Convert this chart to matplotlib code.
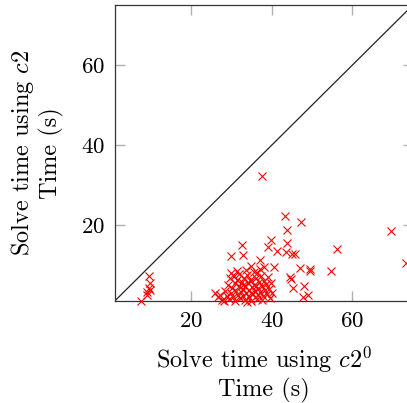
import matplotlib
matplotlib.use("Agg")
import matplotlib.pyplot as plt

plt.rcParams['font.family'] = 'serif'
plt.rcParams['font.serif'] = ['cmr10', 'DejaVu Serif']
plt.rcParams['mathtext.fontset'] = 'cm'
plt.rcParams['axes.unicode_minus'] = False
plt.rcParams['axes.formatter.use_mathtext'] = True

# Outlying points
outer_x = [37.6, 43.2, 47.3, 43.7, 69.5, 39.9, 43.9, 32.6, 39.0, 41.2, 43.6, 45.1,
           45.9, 56.1, 29.8, 32.8, 73.4, 37.1, 35.0, 38.1, 40.5, 47.1, 49.6, 49.4,
           54.8, 44.6, 44.8, 45.3, 47.9, 47.8, 48.9,
           9.5, 9.9, 9.5, 9.9, 9.1, 9.0, 7.65]
outer_y = [32.3, 22.4, 20.9, 18.75, 18.5, 16.3, 15.5, 15.2, 14.5, 13.6, 13.3, 12.9,
           12.8, 14.0, 12.3, 12.6, 10.5, 11.3, 9.85, 9.6, 9.7, 9.35, 9.2, 8.5,
           8.7, 7.0, 6.6, 4.3, 4.85, 2.2, 2.7,
           7.35, 5.7, 4.3, 3.9, 3.4, 2.6, 1.2]

# Dense cluster
cluster_x = [26.0, 26.8, 27.3, 27.8, 28.3, 28.5, 28.9, 29.2, 29.5, 29.7, 29.9, 30.1,
             30.3, 30.6, 30.8, 31.0, 31.1, 31.4, 31.6, 31.8, 32.0, 32.2, 32.4, 32.6,
             32.8, 33.0, 33.2, 33.4, 33.5, 33.7, 33.9, 34.1, 34.3, 34.5, 34.7, 34.9,
             35.1, 35.3, 35.5, 35.7, 35.9, 36.1, 36.3, 36.5, 36.7, 36.9, 37.1, 37.3,
             37.5, 37.7, 37.9, 38.1, 38.3, 38.5, 38.8, 39.0, 39.3, 39.6, 39.9, 40.2,
             31.3, 33.6, 36.4, 34.0, 30.0, 37.0, 32.9, 35.0, 36.0, 34.8]
cluster_y = [3.1, 2.0, 2.7, 1.3, 1.0, 3.6, 2.3, 5.0, 1.6, 6.8, 3.2, 4.3,
             2.1, 7.4, 5.6, 1.2, 3.7, 6.3, 2.7, 4.8, 7.8, 1.8, 3.3, 5.8,
             4.1, 2.4, 6.9, 1.4, 4.9, 3.1, 7.6, 5.5, 2.0, 3.9, 6.4, 1.1,
             4.6, 2.9, 8.3, 5.2, 3.5, 6.9, 1.7, 4.3, 2.6, 5.9, 3.4, 7.3,
             1.3, 4.9, 2.3, 6.2, 3.8, 5.4, 2.8, 7.0, 4.1, 1.9, 5.6, 3.2,
             8.6, 8.9, 8.1, 0.9, 8.0, 9.0, 5.2, 6.0, 4.9, 3.0]

xs = outer_x + cluster_x
ys = outer_y + cluster_y

xlim = (1.1, 75.0)
ylim = (1.0, 75.0)
ticks = [20, 40, 60]

fig = plt.figure(figsize=(4.07, 4.03), dpi=100)
ax = fig.add_axes([0.2818, 0.2519, 0.7327, 0.7357])

ax.plot(xs, ys, linestyle='none', marker='x', color='red',
        markersize=5.5, markeredgewidth=0.8, clip_on=False, zorder=3)
ax.plot([min(xlim[0], ylim[0]), max(xlim[1], ylim[1])],
        [min(xlim[0], ylim[0]), max(xlim[1], ylim[1])],
        color='#222222', linewidth=0.9, zorder=2)

ax.set_xlim(*xlim)
ax.set_ylim(*ylim)
ax.set_xticks(ticks)
ax.set_yticks(ticks)
ax.tick_params(direction='in', length=7, width=1.0, color='#b0b0b0',
               top=True, right=True, labelsize=16.5, pad=7)
for s in ax.spines.values():
    s.set_color('#333333')
    s.set_linewidth(0.9)

ax.set_xlabel('Solve time using $c2^0$\nTime (s)', fontsize=17.5, labelpad=10,
              linespacing=1.15)
ax.set_ylabel('Solve time using $c2$\nTime (s)', fontsize=17.5, labelpad=12,
              linespacing=1.15)

fig.savefig('out.png', dpi=100)
